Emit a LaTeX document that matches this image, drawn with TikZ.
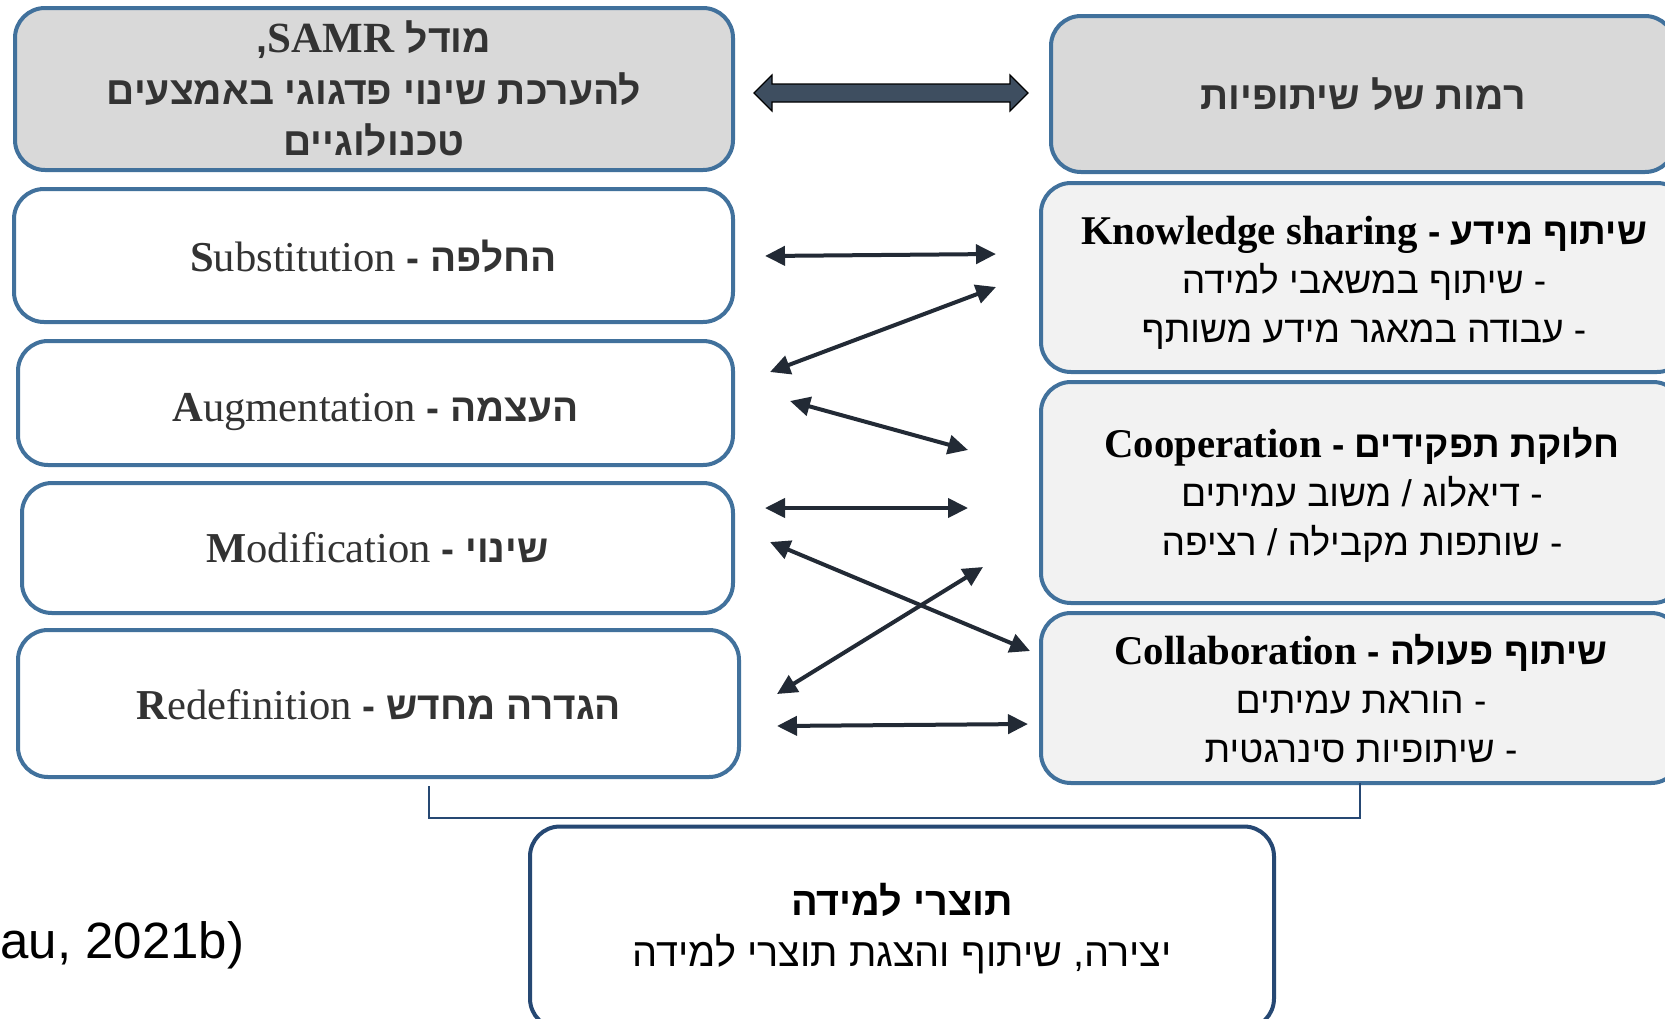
\documentclass[tikz,border=0pt]{standalone}
\usepackage{fontspec}
\setmainfont{Liberation Serif}
\newfontfamily\heb[Script=Hebrew, Scale=0.91]{Liberation Sans}
\newfontfamily\citefont{Liberation Sans}
\TeXXeTstate=1
\usetikzlibrary{arrows.meta,calc}
\newcommand{\hebline}[1]{\beginR#1\endR}
\newcommand{\enl}[1]{\beginL#1\endL}
\definecolor{boxblue}{RGB}{65,113,156}
\definecolor{hdrgray}{RGB}{217,217,217}
\definecolor{lvlgray}{RGB}{242,242,242}
\definecolor{navyline}{RGB}{38,72,115}
\definecolor{arrowdark}{RGB}{34,42,53}
\definecolor{blockfill}{RGB}{62,78,96}
\definecolor{txtgray}{RGB}{51,51,51}
\tikzset{
  box/.style={draw=boxblue, line width=2pt, rounded corners=15pt, inner sep=0pt, align=center},
  hdrbox/.style={box, fill=hdrgray, text=txtgray, font=\heb\bfseries\fontsize{21.5}{25.75}\selectfont},
  lvlbox/.style={box, fill=lvlgray, text=black, font=\heb\fontsize{20.4}{24.5}\selectfont},
  samrbox/.style={box, fill=white, text=txtgray, font=\heb\fontsize{21.3}{25}\selectfont},
  prodbox/.style={box, draw=navyline, fill=white, text=black, font=\heb\fontsize{21.8}{25.5}\selectfont},
  conn/.style={{Triangle[length=10pt,width=9.5pt]}-{Triangle[length=10pt,width=9.5pt]}, line width=2pt, draw=arrowdark},
  bracket/.style={draw=navyline, line width=0.8pt},
  blockarrow/.style={fill=blockfill, draw=black, line width=0.6pt}
}
\begin{document}
\begin{tikzpicture}[x=0.5pt, y=-0.5pt]
\useasboundingbox (0,0) rectangle (1665,1018);
\clip (0,0) rectangle (1665,1018);
\fill[white] (0,0) rectangle (1665,1018);

% header boxes
\node[hdrbox, minimum width=359pt, minimum height=81pt] (samr) at (374,89)
  {\hebline{מודל \enl{\textbf{\rmfamily SAMR}},}\\ \hebline{להערכת שינוי פדגוגי באמצעים}\\ \hebline{טכנולוגיים}};
\node[hdrbox, minimum width=312pt, minimum height=78pt] (levels) at (1363,94)
  {\hebline{רמות של שיתופיות}};

% SAMR levels
\node[samrbox, minimum width=359.5pt, minimum height=66.5pt] (subs) at (373.5,255.5)
  {\rule{0pt}{17pt}\hebline{{\bfseries החלפה} \textbf{-} \enl{\rmfamily\textbf{S}ubstitution}}};
\node[samrbox, minimum width=357.5pt, minimum height=62pt] (aug) at (375.5,403)
  {\rule{0pt}{23pt}\hebline{{\bfseries העצמה} \textbf{-} \enl{\rmfamily\textbf{A}ugmentation}}};
\node[samrbox, minimum width=355.5pt, minimum height=65pt] (mod) at (377.5,548)
  {\hebline{{\bfseries שינוי} \textbf{-} \enl{\rmfamily\textbf{M}odification}}};
\node[samrbox, minimum width=360.5pt, minimum height=73.5pt] (redef) at (378.5,703.5)
  {\rule{0pt}{16.5pt}\hebline{{\bfseries הגדרה מחדש} \textbf{-} \enl{\rmfamily\textbf{R}edefinition}}};

% collaboration levels
\node[lvlbox, minimum width=323pt, minimum height=94.5pt] (know) at (1364,277.5)
  {\rule{0pt}{19.5pt}\hebline{{\bfseries שיתוף מידע} \textbf{-} \enl{\rmfamily\bfseries Knowledge sharing}}\\
   \hebline{- שיתוף במשאבי למידה}\\ \hebline{- עבודה במאגר מידע משותף}};
\node[lvlbox, minimum width=321pt, minimum height=110.5pt] (coop) at (1362,492.5)
  {\rule{0pt}{17.5pt}\hebline{{\bfseries חלוקת תפקידים} \textbf{-} \enl{\rmfamily\bfseries Cooperation}}\\
   \hebline{- דיאלוג / משוב עמיתים}\\ \hebline{- שותפות מקבילה / רציפה}};
\node[lvlbox, minimum width=320pt, minimum height=85pt] (collab) at (1361,698)
  {\rule{0pt}{16pt}\hebline{{\bfseries שיתוף פעולה} \textbf{-} \enl{\rmfamily\bfseries Collaboration}}\\
   \hebline{- הוראת עמיתים}\\ \hebline{- שיתופיות סינרגטית}};

% products
\node[prodbox, minimum width=372pt, minimum height=101pt] (prod) at (902,927.5)
  {\rule{0pt}{17pt}\hebline{\bfseries תוצרי למידה}\\ \hebline{יצירה, שיתוף והצגת תוצרי למידה}};

% citation (cut at the left edge in the source)
\node[anchor=west, inner sep=0pt, font=\citefont\fontsize{25.5}{30}\selectfont] (cite) at (0,945) {au, 2021b)};

% block double arrow between headers
\coordinate (bl) at (754,93);
\coordinate (br) at (1028,93);
\filldraw[blockarrow] (bl) -- ++(18,-18) -- ++(0,9) -- ($(br)+(-18,-9)$) -- ++(0,-9) -- (br)
  -- ++(-18,18) -- ++(0,-9) -- ($(bl)+(18,9)$) -- ++(0,9) -- cycle;

% connector end points
\coordinate (s1) at (765,256);  \coordinate (k1) at (996,254);
\coordinate (k2) at (996,287);  \coordinate (a2) at (770,372);
\coordinate (a3) at (790,401);  \coordinate (c3) at (968,450);
\coordinate (m4) at (765,508);  \coordinate (c4) at (968,508);
\coordinate (m5) at (770,542);  \coordinate (l5) at (1030,651);
\coordinate (c6) at (983,567);  \coordinate (r6) at (777,694);
\coordinate (r7) at (777,726);  \coordinate (l7) at (1028,724);

\draw[conn] (s1) -- (k1);
\draw[conn] (a2) -- (k2);
\draw[conn] (a3) -- (c3);
\draw[conn] (m4) -- (c4);
\draw[conn] (m5) -- (l5);
\draw[conn] (r6) -- (c6);
\draw[conn] (r7) -- (l7);

% bracket under the two columns
\coordinate (brL) at (429,786);
\coordinate (brR) at (1360,783);
\coordinate (bry) at (0,818);
\draw[bracket] (brL) -- (brL |- bry) -- (brR |- bry) -- (brR);
\end{tikzpicture}
\end{document}
